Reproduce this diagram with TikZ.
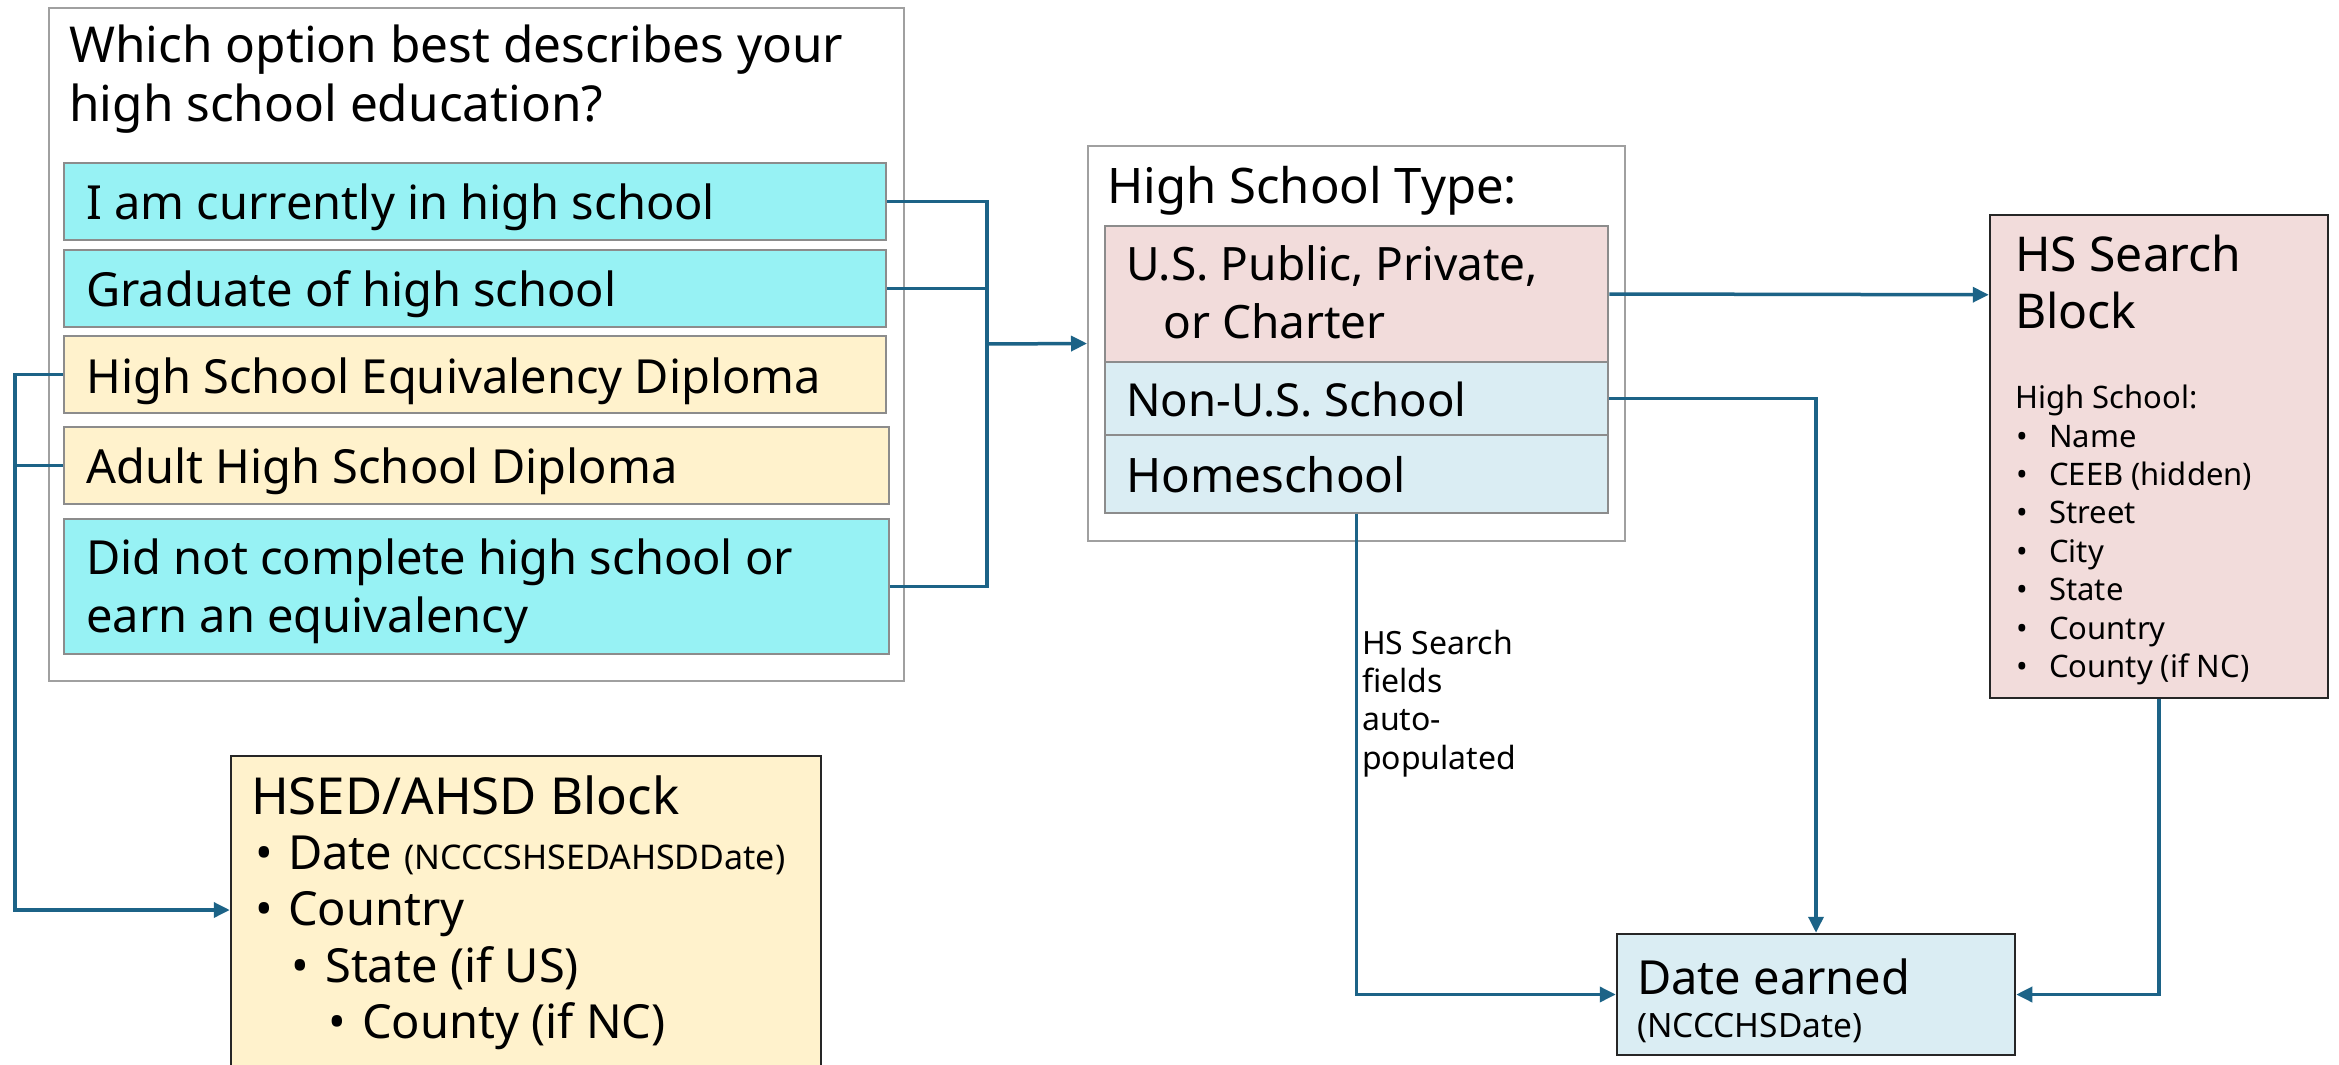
\documentclass[tikz,border=0pt]{standalone}
\usepackage{fontspec}
\setmainfont{Noto Sans}
\usetikzlibrary{arrows.meta}
\definecolor{cyanbox}{HTML}{97F2F4}
\definecolor{beigebox}{HTML}{FFF2CC}
\definecolor{pinkbox}{HTML}{F2DCDB}
\definecolor{bluebox}{HTML}{DAEDF3}
\definecolor{optline}{HTML}{8C8C8C}
\definecolor{outline}{HTML}{A0A0A0}
\definecolor{conn}{HTML}{1C6387}
\begin{document}
\begin{tikzpicture}[x=1pt,y=-1pt,
  outerbox/.style={draw=outline, line width=2pt, fill=white, inner sep=0pt, rectangle},
  optbox/.style={draw=optline, line width=2.5pt, fill=#1, inner sep=0pt, rectangle},
  blockbox/.style={draw=black!85, line width=2.5pt, fill=#1, inner sep=0pt, rectangle},
  tx/.style={anchor=base west, inner sep=0pt, font=\fontsize{47}{55}\selectfont},
  ttl/.style={anchor=base west, inner sep=0pt, font=\fontsize{49.5}{58}\selectfont},
  sm/.style={anchor=base west, inner sep=0pt, font=\fontsize{31}{36}\selectfont},
  lbl/.style={anchor=base west, inner sep=0pt, font=\fontsize{32}{36}\selectfont},
  link/.style={draw=conn, line width=3.5pt},
  arr/.style={link, -{Triangle[length=16pt,width=15pt]}}]
\useasboundingbox (0,0) rectangle (2339,1065);
\fill[white] (0,0) rectangle (2339,1065);

% question box
\node[outerbox, minimum width=855pt, minimum height=673pt] (qbox) at (476.5,344.5) {};
\node[ttl] (qt1) at (69,63) {Which option best describes your};
\node[ttl] (qt2) at (69,121) {high school education?};
\node[optbox=cyanbox, minimum width=822pt, minimum height=77pt] (o1) at (475,201.5) {};
\node[optbox=cyanbox, minimum width=822pt, minimum height=77pt] (o2) at (475,288.5) {};
\node[optbox=beigebox, minimum width=822pt, minimum height=77pt] (o3) at (475,374.5) {};
\node[optbox=beigebox, minimum width=825pt, minimum height=77pt] (o4) at (476.5,465.5) {};
\node[optbox=cyanbox, minimum width=825pt, minimum height=135pt] (o5) at (476.5,586.5) {};
\node[tx] (o1t) at (86,219) {I am currently in high school};
\node[tx] (o2t) at (86,306) {Graduate of high school};
\node[tx] (o3t) at (86,393) {High School Equivalency Diploma};
\node[tx] (o4t) at (86,483) {Adult High School Diploma};
\node[tx] (o5t) at (86,574) {Did not complete high school or};
\node[tx] (o5u) at (86,632) {earn an equivalency};

% high school type box
\node[outerbox, minimum width=537pt, minimum height=395pt] (tbox) at (1356.5,343.5) {};
\node[tx, font=\fontsize{49}{55}\selectfont] (tt) at (1107,203) {High School Type:};
\node[optbox=pinkbox, minimum width=503pt, minimum height=136pt] (us) at (1356.5,294) {};
\node[optbox=bluebox, minimum width=503pt, minimum height=73pt] (nonus) at (1356.5,398.5) {};
\node[optbox=bluebox, minimum width=503pt, minimum height=78pt] (home) at (1356.5,474) {};
\node[tx, font=\fontsize{46}{55}\selectfont] (ust) at (1126,280) {U.S. Public, Private,};
\node[tx, font=\fontsize{46}{55}\selectfont] (usu) at (1163,338) {or Charter};
\node[tx, font=\fontsize{45.5}{55}\selectfont] (nont) at (1126,416) {Non-U.S. School};
\node[tx, font=\fontsize{47.5}{55}\selectfont] (homet) at (1126,492) {Homeschool};

% HS search block
\node[blockbox=pinkbox, minimum width=338pt, minimum height=483pt] (search) at (2159,456.5) {};
\node[tx, font=\fontsize{48}{55}\selectfont] (st1) at (2015,271) {HS Search};
\node[tx, font=\fontsize{48}{55}\selectfont] (st2) at (2015,328) {Block};
\node[sm] (sh) at (2015,408) {High School:};
\foreach \t [count=\i from 0] in {Name,CEEB (hidden),Street,City,State,Country,County (if NC)}{
  \node[sm] (sb\i) at (2016,447+38.4*\i) {•};
  \node[sm] (si\i) at (2049,447+38.4*\i) {\t};
}

% HSED block
\node[blockbox=beigebox, minimum width=590pt, minimum height=330pt] (hsed) at (526,921) {};
\node[tx, font=\fontsize{51}{55}\selectfont] (ht) at (251,814) {HSED/AHSD Block};
\node[tx] (hb1) at (255,869) {•};
\node[tx] (hi1) at (288,869) {Date \fontsize{34}{36}\selectfont(NCCCSHSEDAHSDDate)};
\node[tx] (hb2) at (255,925) {•};
\node[tx] (hi2) at (288,925) {Country};
\node[tx] (hb3) at (291,982) {•};
\node[tx] (hi3) at (325,982) {State (if US)};
\node[tx] (hb4) at (328,1038) {•};
\node[tx] (hi4) at (362,1038) {County (if NC)};

% date earned
\node[blockbox=bluebox, minimum width=398pt, minimum height=121pt] (date) at (1816,994.5) {};
\node[tx] (dt) at (1637,994) {Date earned};
\node[sm, font=\fontsize{33.5}{36}\selectfont] (du) at (1637,1037) {(NCCCHSDate)};

% label
\node[lbl] (l1) at (1362,654) {HS Search};
\node[lbl] (l2) at (1362,692) {fields};
\node[lbl] (l3) at (1362,730) {auto-};
\node[lbl] (l4) at (1362,769) {populated};

% connectors
\coordinate (bx) at (987,344);
\draw[link] (o1.east) -| (bx) |- (o5.east);
\draw[link] (o2.east) -| (bx);
\draw[arr] (bx) -- (tbox.west);
\coordinate (lb) at (15,374.5);
\draw[arr] (o3.west) -- (lb) |- ([yshift=11pt]hsed.west);
\draw[link] (o4.west) -- (o4.west -| lb);
\draw[arr] (us.east) -- ([yshift=-81pt]search.north west);
\draw[arr] (nonus.east) -| (date.north);
\draw[arr] (home.south) |- (date.west);
\draw[arr] (search.south) |- (date.east);
\end{tikzpicture}
\end{document}
